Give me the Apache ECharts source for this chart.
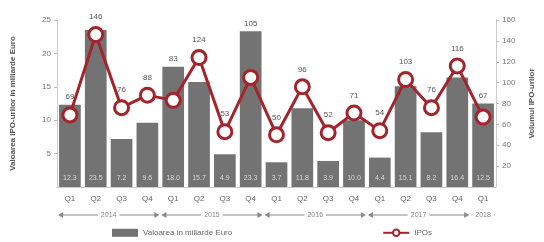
<!DOCTYPE html>
<html>
<head>
<meta charset="utf-8">
<script src="https://cdn.jsdelivr.net/npm/echarts@6/dist/echarts.min.js"></script>
<style>
  html, body { margin: 0; padding: 0; background: #fff; }
  #chart { width: 544px; height: 242px; }
</style>
</head>
<body>
<div id="chart"></div>
<script>
// quarters, 2014 Q1 .. 2018 Q1
const quarters = ['Q1', 'Q2', 'Q3', 'Q4', 'Q1', 'Q2', 'Q3', 'Q4', 'Q1', 'Q2', 'Q3', 'Q4', 'Q1', 'Q2', 'Q3', 'Q4', 'Q1'];
const valoare = [12.3, 23.5, 7.2, 9.6, 18.0, 15.7, 4.9, 23.3, 3.7, 11.8, 3.9, 10.0, 4.4, 15.1, 8.2, 16.4, 12.5];
const ipos = [69, 146, 76, 88, 83, 124, 53, 105, 50, 96, 52, 71, 54, 103, 76, 116, 67];
const years = ['2014', '2015', '2016', '2017', '2018'];
const yearStart = [0, 4, 8, 12, 16];
const yearEnd = [3, 7, 11, 15, 16];
const leftTicks = [0, 5, 10, 15, 20, 25];
const rightTicks = [0, 20, 40, 60, 80, 100, 120, 140, 160];

const leftMax = leftTicks[leftTicks.length - 1];
const rightMax = rightTicks[rightTicks.length - 1];

// number label goes above the bar when the bar sticks out over the circle
const onBar = valoare.map((v, i) => v * rightMax / leftMax > ipos[i] + 8);

const myChart = echarts.init(document.getElementById('chart'));
const grey = '#737373';
const red = '#a3242b';

const option = {
  animation: false,
  grid: { left: 57, right: 42, top: 20, bottom: 55 },
  legend: {
    bottom: 0,
    left: 'center',
    itemGap: 150,
    itemWidth: 26,
    itemHeight: 8,
    textStyle: { fontSize: 8, color: '#666' },
    data: [
      { name: 'Valoarea in miliarde Euro', icon: 'rect', itemStyle: { color: grey } },
      { name: 'IPOs' }
    ]
  },
  xAxis: {
    type: 'category',
    data: quarters,
    axisLine: { show: true, lineStyle: { color: '#ccc' } },
    axisTick: { show: false },
    axisLabel: { fontSize: 8, color: '#666', margin: 8 }
  },
  yAxis: [
    {
      type: 'value',
      min: 0,
      max: leftMax,
      interval: 5,
      name: 'Valoarea IPO-urilor in miliarde Euro',
      nameLocation: 'middle',
      nameGap: 40,
      nameTextStyle: { fontSize: 8, color: '#555', fontWeight: 'bold' },
      axisLine: { show: true, lineStyle: { color: '#ccc' } },
      axisTick: { show: true, length: 3, lineStyle: { color: '#bbb' } },
      axisLabel: { fontSize: 8, color: '#777', margin: 6, showMinLabel: false },
      splitLine: { show: false }
    },
    {
      type: 'value',
      min: 0,
      max: rightMax,
      interval: 20,
      name: 'Volumul IPO-urilor',
      nameLocation: 'middle',
      nameGap: 32,
      nameTextStyle: { fontSize: 8, color: '#555', fontWeight: 'bold' },
      axisLine: { show: true, lineStyle: { color: '#ccc' } },
      axisTick: { show: true, length: 3, lineStyle: { color: '#bbb' } },
      axisLabel: { fontSize: 8, color: '#777', margin: 6, showMinLabel: false },
      splitLine: { show: false }
    }
  ],
  series: [
    {
      name: 'Valoarea in miliarde Euro',
      type: 'bar',
      yAxisIndex: 0,
      barCategoryGap: '16%',
      itemStyle: { color: grey },
      label: {
        show: true,
        position: 'insideBottom',
        distance: 5,
        fontSize: 7,
        color: '#d8d8d8',
        formatter: p => p.value.toFixed(1)
      },
      data: valoare
    },
    {
      // transparent copy of the bars, only carries the IPO count above tall bars
      name: 'barTop',
      type: 'bar',
      yAxisIndex: 0,
      barGap: '-100%',
      barCategoryGap: '16%',
      itemStyle: { color: 'rgba(0,0,0,0)' },
      silent: true,
      z: 6,
      data: valoare.map((v, i) => ({
        value: v,
        label: {
          show: onBar[i],
          position: 'top',
          distance: 4,
          fontSize: 8,
          color: '#555'
        , formatter: () => String(ipos[i])
        }
      }))
    },
    {
      name: 'IPOs',
      type: 'line',
      yAxisIndex: 1,
      symbol: 'circle',
      symbolSize: 14,
      lineStyle: { color: red, width: 3 },
      itemStyle: { color: '#fff', borderColor: red, borderWidth: 3 },
      z: 5,
      data: ipos.map((v, i) => ({
        value: v,
        label: {
          show: !onBar[i],
          position: 'top',
          distance: 5,
          fontSize: 8,
          color: '#555'
        }
      }))
    },
    {
      // year rows under the quarter labels
      name: 'years',
      type: 'custom',
      xAxisIndex: 0,
      yAxisIndex: 0,
      clip: false,
      silent: true,
      encode: { x: [0, 1] },
      data: yearStart.map((s, i) => [s, yearEnd[i]]),
      renderItem: function (params, api) {
        const half = api.size([1, 0])[0] / 2;
        const a = api.coord([api.value(0), 0]);
        const b = api.coord([api.value(1), 0]);
        const x0 = a[0] - half + 1;
        const x1 = b[0] + half - 1;
        const y = a[1] + 28;
        const c = '#8a8a8a';
        const h = 4;
        return {
          type: 'group',
          children: [
            { type: 'line', shape: { x1: x0 + h, y1: y, x2: x1 - h, y2: y }, style: { stroke: c, lineWidth: 1 } },
            { type: 'polygon', shape: { points: [[x0, y], [x0 + h + 1, y - 3], [x0 + h + 1, y + 3]] }, style: { fill: c } },
            { type: 'polygon', shape: { points: [[x1, y], [x1 - h - 1, y - 3], [x1 - h - 1, y + 3]] }, style: { fill: c } },
            {
              type: 'text',
              x: (x0 + x1) / 2,
              y: y,
              style: {
                text: years[params.dataIndex],
                fontSize: 7,
                fill: '#888',
                align: 'center',
                verticalAlign: 'middle',
                backgroundColor: '#fff',
                padding: [0, 3]
              }
            }
          ]
        };
      }
    }
  ]
};

myChart.setOption(option);
</script>
</body>
</html>
